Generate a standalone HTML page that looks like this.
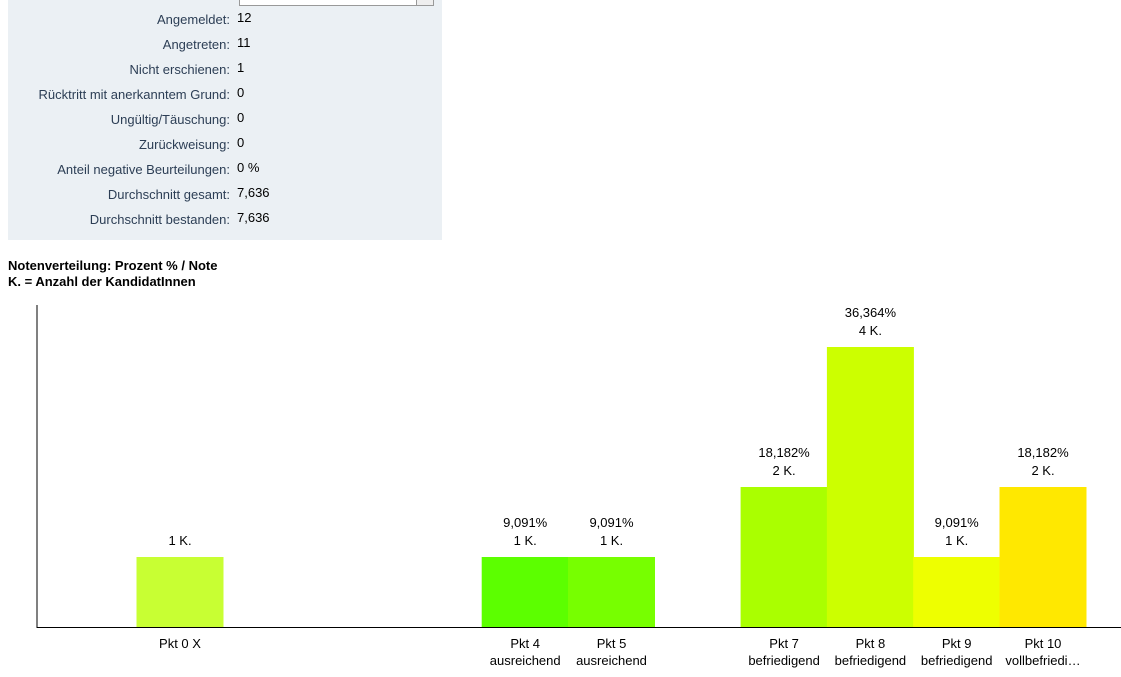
<!DOCTYPE html>
<html><head><meta charset="utf-8"><style>
body{margin:0;width:1121px;height:677px;background:#fff;font-family:"Liberation Sans",Arial,sans-serif;position:relative;overflow:hidden}
#panel{position:absolute;left:8px;top:0;width:434px;height:240px;background:#ebf0f4}
.row{position:absolute;left:0;width:434px;height:20px;font-size:13px}
.row .l{position:absolute;right:212px;color:#2c3e55;white-space:nowrap}
.row .v{position:absolute;left:229px;color:#000;top:-2px}
#sel{position:absolute;left:231px;top:-6px;width:193px;height:10px;border:1px solid #999;background:#fff}
#sel:after{content:"";position:absolute;right:0;top:0;width:16px;height:10px;border-left:1px solid #999;background:#eee}
h4{position:absolute;left:8px;top:258px;margin:0;font-size:13px;line-height:16px;font-weight:bold}
</style></head><body>
<div id="panel">
<div id="sel"></div>
</div>
<h4>Notenverteilung: Prozent % / Note<br>K. = Anzahl der KandidatInnen</h4>
<svg id="chart" width="1121" height="677" style="position:absolute;left:0;top:0" font-family="Liberation Sans, Arial, sans-serif" font-size="13"></svg>
<script>
const statLabels=["Angemeldet:","Angetreten:","Nicht erschienen:","Rücktritt mit anerkanntem Grund:","Ungültig/Täuschung:","Zurückweisung:","Anteil negative Beurteilungen:","Durchschnitt gesamt:","Durchschnitt bestanden:"];
const statValues=["12","11","1","0","0","0","0 %","7,636","7,636"];
const slots=[0,4,5,7,8,9,10];
const names=["Pkt 0 X","Pkt 4","Pkt 5","Pkt 7","Pkt 8","Pkt 9","Pkt 10"];
const subNames=["","ausreichend","ausreichend","befriedigend","befriedigend","befriedigend","vollbefriedi…"];
const percents=[9.091,9.091,9.091,18.182,36.364,9.091,18.182];
const percentLabels=["","9,091%","9,091%","18,182%","36,364%","9,091%","18,182%"];
const counts=[1,1,1,2,4,1,2];
const colors=["#c8ff33","#5cff00","#77ff00","#aaff00","#ccff00","#eeff00","#ffe800"];

const panel=document.getElementById('panel');
statLabels.forEach((t,i)=>{
  const r=document.createElement('div');r.className='row';r.style.top=(12+i*25)+'px';
  
  
  r.innerHTML='<span class="l">'+t+'</span><span class="v">'+statValues[i]+'</span>';
  panel.appendChild(r);
});

const svg=document.getElementById('chart');const NS="http://www.w3.org/2000/svg";
const x0=180,step=86.3,base=627,bw=87,yScale=280/36.364;
const xs=s=>x0+s*step, ys=p=>base-p*yScale;
function el(tag,attrs,txt){const e=document.createElementNS(NS,tag);for(const k in attrs)e.setAttribute(k,attrs[k]);if(txt!==undefined)e.textContent=txt;svg.appendChild(e);return e;}
slots.forEach((s,i)=>{
  const cx=xs(s),top=ys(percents[i]);
  const b=el('rect',{x:cx-bw/2,y:top,width:bw,height:base-top,fill:colors[i]});
  
  
  if(percentLabels[i]){const t=el('text',{x:cx,y:top-30,'text-anchor':'middle'},percentLabels[i]);
    
    }
  const c=el('text',{x:cx,y:top-12,'text-anchor':'middle'},counts[i]+' K.');
  
  
  const n=el('text',{x:cx,y:648,'text-anchor':'middle'},names[i]);
  
  
  if(subNames[i]){const m=el('text',{x:cx,y:665,'text-anchor':'middle'},subNames[i]);
    
    }
});
const ya=el('line',{x1:37,y1:305,x2:37,y2:628,stroke:'#000','stroke-width':1});


const xa=el('line',{x1:37,y1:627.5,x2:1121,y2:627.5,stroke:'#000','stroke-width':1});


</script>
</body></html>
